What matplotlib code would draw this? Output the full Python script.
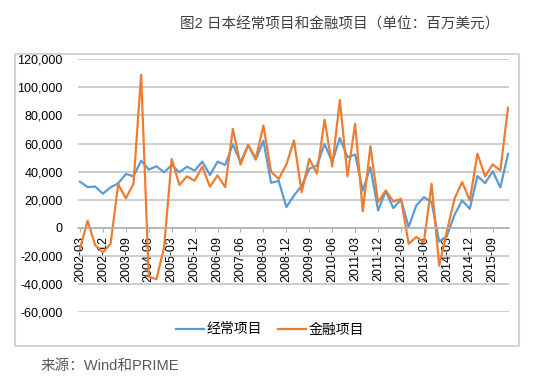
import matplotlib
matplotlib.use('Agg')
import matplotlib.pyplot as plt
import matplotlib.patches as patches
from matplotlib.ticker import FuncFormatter

plt.rcParams['font.family'] = ['Liberation Sans', 'Noto Sans CJK SC']

# quarterly data, 2002-03 .. 2016-03 (million USD)
quarters = [f'{y}-{m:02d}' for y in range(2002, 2017) for m in (3, 6, 9, 12)][:57]

current_account = [32800, 29000, 29300, 24300, 28800, 31700, 38300, 36700, 47800, 41400,
                   43800, 39500, 44700, 39500, 43500, 40700, 47100, 37600, 47100, 44700,
                   59500, 46600, 58900, 48500, 62000, 32000, 33400, 14700, 23000, 29800,
                   42000, 44300, 59700, 47000, 63900, 50200, 52200, 26500, 43200, 12300,
                   26000, 14000, 20100, 500, 15900, 21800, 18200, -9800, -6000, 9200,
                   19400, 13500, 36800, 31800, 40200, 28700, 52600]

financial_account = [-15000, 5000, -12500, -17500, -11500, 31000, 21000, 31400, 109000, -34800,
                     -36700, -14000, 49000, 30500, 36600, 33500, 43500, 29300, 37300, 29000,
                     70400, 45000, 59000, 49500, 72800, 40000, 34800, 45000, 62200, 25300,
                     49200, 38600, 77000, 43700, 91000, 36600, 74000, 11800, 58100, 18200,
                     26600, 18700, 20600, -11400, -6600, -10200, 31300, -27000, -2500, 20600,
                     32600, 19500, 52800, 36600, 45200, 40800, 85500]

x = list(range(len(quarters)))

fig = plt.figure(figsize=(5.36, 3.89), dpi=100)
W, H = 536, 389

# chart frame
fig.patches.append(patches.Rectangle((15 / W, 1 - 346 / H), (519 - 15) / W, (346 - 53.6) / H,
                                     transform=fig.transFigure, fill=False,
                                     ec='#d4d4d4', lw=1.5))

ax = fig.add_axes([78 / W, 1 - 312 / H, (509 - 78) / W, (312 - 59.3) / H])

l1, = ax.plot(x, current_account, color='#5B9BD5', lw=1.6, label='经常项目')
l2, = ax.plot(x, financial_account, color='#ED7D31', lw=1.6, label='金融项目')

ax.set_ylim(-60000, 120000)
ax.set_xlim(-0.26, 56.13)
ax.set_yticks(range(-60000, 120001, 20000))
ax.yaxis.set_major_formatter(FuncFormatter(lambda v, p: f'{v:,.0f}'))
ax.grid(axis='y', color='#c0c0c0', lw=1.1)
ax.set_axisbelow(True)

for s in ['top', 'right', 'left']:
    ax.spines[s].set_visible(False)
ax.spines['bottom'].set_position(('data', 0))
ax.spines['bottom'].set_color('#b0b0b0')
ax.spines['bottom'].set_linewidth(1.1)

ax.set_xticks(x[::3])
ax.set_xticklabels(quarters[::3], rotation=90, fontsize=9)
ax.tick_params(axis='x', length=3, color='#b0b0b0', pad=3)
ax.tick_params(axis='y', length=0, pad=11, labelsize=9)

fig.text(340 / W, 1 - 25 / H, '图2 日本经常项目和金融项目（单位：百万美元）',
         ha='center', va='center', fontsize=10.5, color='#404040')
fig.text(41 / W, 1 - 366 / H, '来源：Wind和PRIME', ha='left', va='center',
         fontsize=10.5, color='#595959')

fig.legend(handles=[l1, l2], loc='center', bbox_to_anchor=(270 / W, 1 - 329.5 / H),
           ncol=2, frameon=False, fontsize=10, handlelength=2.0,
           handletextpad=0.15, columnspacing=1.2)

fig.savefig('out.png', dpi=100)
